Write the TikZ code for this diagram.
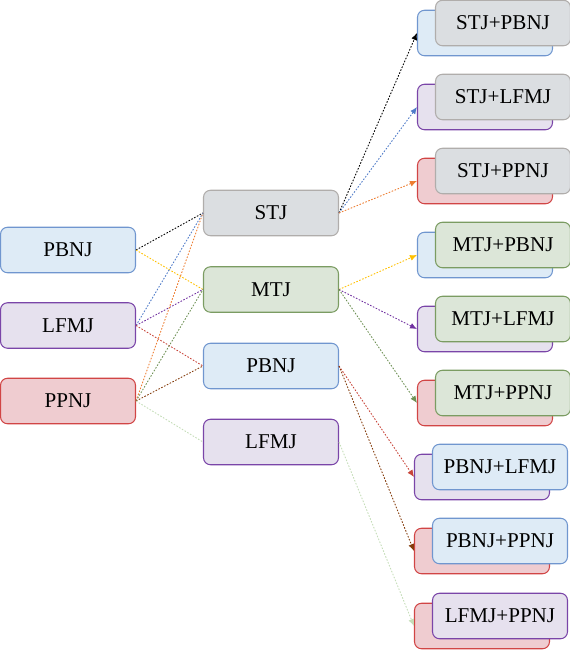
\documentclass[tikz,border=0pt]{standalone}
\usepackage{fontspec}
\setmainfont{Liberation Serif}
\usetikzlibrary{arrows.meta}
\definecolor{grisClaro}{HTML}{DBDEE1}
\definecolor{grisBorde}{HTML}{B0ADAB}
\definecolor{azulClaro}{HTML}{DEEBF6}
\definecolor{azulBorde}{HTML}{7096CF}
\definecolor{moradoClaro}{HTML}{E6E1EE}
\definecolor{moradoBorde}{HTML}{7A45A8}
\definecolor{rojoClaro}{HTML}{EFCCD0}
\definecolor{rojoBorde}{HTML}{D14545}
\definecolor{verdeClaro}{HTML}{DCE6D8}
\definecolor{verdeBorde}{HTML}{7B9C62}
\definecolor{lineaAzul}{HTML}{4F7BC8}
\definecolor{lineaAmarilla}{HTML}{FFC000}
\definecolor{lineaMorada}{HTML}{7030A0}
\definecolor{lineaRoja}{HTML}{C8453A}
\definecolor{lineaNaranja}{HTML}{ED7D31}
\definecolor{lineaVerde}{HTML}{6E9155}
\definecolor{lineaCafe}{HTML}{843C0C}
\definecolor{lineaVerdeClara}{HTML}{C5DDB8}

\begin{document}
\begin{tikzpicture}[x=0.02cm, y=-0.02cm,
    caja/.style={rectangle, rounded corners=0.14cm, line width=0.6pt, inner sep=0pt,
                 minimum width=2.7cm, minimum height=0.91cm, align=center,
                 font=\fontsize{12}{14}\selectfont},
    gris/.style={caja, draw=grisBorde, fill=grisClaro},
    azul/.style={caja, draw=azulBorde, fill=azulClaro},
    morado/.style={caja, draw=moradoBorde, fill=moradoClaro},
    rojo/.style={caja, draw=rojoBorde, fill=rojoClaro},
    verde/.style={caja, draw=verdeBorde, fill=verdeClaro},
    union/.style={line width=0.5pt, dash pattern=on 0.9pt off 0.9pt},
    flecha/.style={union, -{Latex[length=1.4mm, width=1.2mm]}}
  ]
  \useasboundingbox (0,0) rectangle (570,650);

  % columna izquierda
  \node[azul] (izqPBNJ) at (68,250) {PBNJ};
  \node[morado] (izqLFMJ) at (68,325.5) {LFMJ};
  \node[rojo] (izqPPNJ) at (68,401) {PPNJ};

  % columna central
  \node[gris] (cenSTJ) at (271,213) {STJ};
  \node[verde] (cenMTJ) at (271,289.5) {MTJ};
  \node[azul] (cenPBNJ) at (271,366) {PBNJ};
  \node[morado] (cenLFMJ) at (271,442) {LFMJ};

  % columna derecha: caja de fondo y caja de frente
  \node[azul] (fondoA) at (485,33) {};
  \node[gris] (frenteA) at (503,23) {STJ+PBNJ};
  \node[morado] (fondoB) at (485,107) {};
  \node[gris] (frenteB) at (503,97) {STJ+LFMJ};
  \node[rojo] (fondoC) at (485,181) {};
  \node[gris] (frenteC) at (503,171) {STJ+PPNJ};
  \node[azul] (fondoD) at (485,255) {};
  \node[verde] (frenteD) at (503,245) {MTJ+PBNJ};
  \node[morado] (fondoE) at (485,329) {};
  \node[verde] (frenteE) at (503,319) {MTJ+LFMJ};
  \node[rojo] (fondoF) at (485,403) {};
  \node[verde] (frenteF) at (503,393) {MTJ+PPNJ};
  \node[morado] (fondoG) at (482,477) {};
  \node[azul] (frenteG) at (500,467) {PBNJ+LFMJ};
  \node[rojo] (fondoH) at (482,551) {};
  \node[azul] (frenteH) at (500,541) {PBNJ+PPNJ};
  \node[rojo] (fondoI) at (482,626) {};
  \node[morado] (frenteI) at (500,616) {LFMJ+PPNJ};

  % izquierda -> centro
  \draw[union, black] (izqPBNJ.east) -- (cenSTJ.west);
  \draw[union, lineaAmarilla] (izqPBNJ.east) -- (cenMTJ.west);
  \draw[union, lineaAzul] (izqLFMJ.east) -- (cenSTJ.west);
  \draw[union, lineaMorada] (izqLFMJ.east) -- (cenMTJ.west);
  \draw[union, lineaRoja] (izqLFMJ.east) -- (cenPBNJ.west);
  \draw[union, lineaNaranja] (izqPPNJ.east) -- (cenSTJ.west);
  \draw[union, lineaVerde] (izqPPNJ.east) -- (cenMTJ.west);
  \draw[union, lineaCafe] (izqPPNJ.east) -- (cenPBNJ.west);
  \draw[union, lineaVerdeClara] (izqPPNJ.east) -- (cenLFMJ.west);

  % centro -> derecha
  \draw[flecha, black] (cenSTJ.east) -- (fondoA.west);
  \draw[flecha, lineaAzul] (cenSTJ.east) -- (fondoB.west);
  \draw[flecha, lineaNaranja] (cenSTJ.east) -- (fondoC.west);
  \draw[flecha, lineaAmarilla] (cenMTJ.east) -- (fondoD.west);
  \draw[flecha, lineaMorada] (cenMTJ.east) -- (fondoE.west);
  \draw[flecha, lineaVerde] (cenMTJ.east) -- (fondoF.west);
  \draw[flecha, lineaRoja] (cenPBNJ.east) -- (fondoG.west);
  \draw[flecha, lineaCafe] (cenPBNJ.east) -- (fondoH.west);
  \draw[flecha, lineaVerdeClara] (cenLFMJ.east) -- (fondoI.west);
\end{tikzpicture}
\end{document}
